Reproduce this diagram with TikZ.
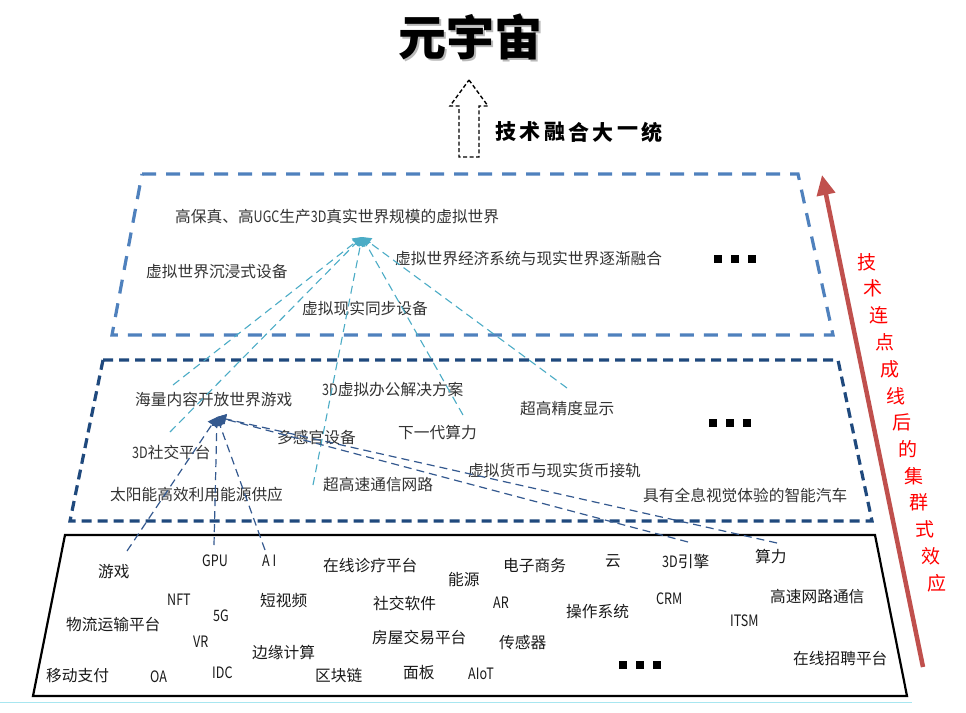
\documentclass[tikz,border=0pt]{standalone}
\usepackage{fontspec}
\usepackage{graphicx}
\setmainfont{Noto Sans CJK SC}
\usetikzlibrary{arrows.meta}
\definecolor{topblue}{HTML}{4F81BD}
\definecolor{midblue}{HTML}{1F497D}
\definecolor{lightc}{HTML}{4BACC6}
\definecolor{darkc}{HTML}{34598F}
\definecolor{redarrow}{HTML}{C0504D}
\definecolor{txtgray}{HTML}{333333}
\definecolor{txtblack}{HTML}{1A1A1A}
\definecolor{faintcyan}{HTML}{A8E6F0}
\newcommand{\nl}[1]{\scalebox{0.8}[1]{#1}}
\newcommand{\sqdots}{\rule{8.5pt}{8.5pt}\hspace{8.5pt}\rule{8.5pt}{8.5pt}\hspace{8.5pt}\rule{8.5pt}{8.5pt}}
\newcommand{\shadowed}[1]{\rlap{\kern2.5pt\raisebox{-2.5pt}{\color{gray!55}#1}}#1}
\tikzset{
  lbl/.style={anchor=west, inner sep=0pt, font=\fontsize{15.7}{16}\selectfont, text=txtgray},
  blbl/.style={lbl, text=txtblack},
  dotsnode/.style={inner sep=0pt, text=black},
  toptrap/.style={draw=topblue, line width=3.2pt, dash pattern=on 14pt off 10pt},
  midtrap/.style={draw=midblue, line width=3.2pt, dash pattern=on 10pt off 6pt},
  bottrap/.style={draw=black, line width=2.2pt, line join=miter},
  lconn/.style={draw=lightc, line width=1.1pt, dash pattern=on 8pt off 5pt, -{Triangle[length=9pt,width=10pt]}},
  dconn/.style={draw=darkc, line width=1.2pt, dash pattern=on 8pt off 5pt, -{Triangle[length=9pt,width=10pt]}},
  redtxt/.style={inner sep=0pt, text=red, font=\fontsize{19}{19}\selectfont},
  captxt/.style={inner sep=0pt, text=black, font=\fontsize{21}{21}\selectfont\bfseries},
  hollow/.style={draw=black, line width=1.4pt, dash pattern=on 4pt off 2.5pt},
  bigarrow/.style={draw=redarrow, line width=4.5pt, -{Triangle[length=20pt,width=18pt]}},
}
\begin{document}
\begin{tikzpicture}[x=1pt,y=-1pt]
\useasboundingbox (0,0) rectangle (966,712);
\fill[white] (0,0) rectangle (966,712);

% title
\node[inner sep=0pt, text=black, font=\fontsize{48}{48}\selectfont\bfseries] (title) at (470,38) {\shadowed{元宇宙}};

% hollow dashed arrow
\draw[hollow] (469,80) -- (488,106) -- (479,106) -- (479,157) -- (459,157) -- (459,106) -- (450,106) -- cycle;
\foreach \c [count=\i] in {技,术,融,合,大,一,统}
  \node[captxt] (cap\i) at ({506+(\i-1)*24.3},132) {\c};

% layers
\draw[toptrap] (142,174) -- (798,174) -- (833,335) -- (112,335) -- cycle;
\draw[midtrap] (103,360) -- (838,360) -- (872,521) -- (70,521) -- cycle;
\draw[bottrap] (65,535) -- (875,535) -- (907,696) -- (33,696) -- cycle;
\draw[faintcyan, line width=0.8pt] (0,702) -- (912,702);

% red arrow and text
\coordinate (rs) at (923,667);
\coordinate (re) at (822,175);
\draw[bigarrow] (rs) -- (re);
\foreach \c [count=\i] in {技,术,连,点,成,线,后,的,集,群,式,效,应}
  \node[redtxt] (r\i) at ({867+(\i-1)*5.83},{262+(\i-1)*26.75}) {\c};

% top layer texts
\node[lbl] (t1) at (175,217) {高保真、高\nl{UGC}生产\nl{3D}真实世界规模的虚拟世界};
\node[lbl] (t2) at (146,272) {虚拟世界沉浸式设备};
\node[lbl] (t3) at (302,308) {虚拟现实同步设备};
\node[lbl] (t4) at (395,259) {虚拟世界经济系统与现实世界逐渐融合};
\node[dotsnode] (tdots) at (735,259) {\sqdots};

% middle layer texts
\node[lbl] (m1) at (135,400) {海量内容开放世界游戏};
\node[lbl] (m2) at (322,390) {\nl{3D}虚拟办公解决方案};
\node[lbl] (m3) at (520,408) {超高精度显示};
\node[lbl] (m4) at (132,452) {\nl{3D}社交平台};
\node[lbl] (m5) at (277,438) {多感官设备};
\node[lbl] (m6) at (398,433) {下一代算力};
\node[lbl] (m7) at (468,471) {虚拟货币与现实货币接轨};
\node[lbl] (m8) at (110,495) {太阳能高效利用能源供应};
\node[lbl] (m9) at (323,485) {超高速通信网路};
\node[lbl] (m10) at (643,495) {具有全息视觉体验的智能汽车};
\node[dotsnode] (mdots) at (730,423) {\sqdots};

% bottom layer texts
\node[blbl] (b1) at (98,572) {游戏};
\node[blbl] (b2) at (202,561) {\nl{GPU}};
\node[blbl] (b3) at (262,561) {\nl{A I}};
\node[blbl] (b4) at (323,565) {在线诊疗平台};
\node[blbl] (b5) at (448,580) {能源};
\node[blbl] (b6) at (167,600) {\nl{NFT}};
\node[blbl] (b7) at (213,616) {\nl{5G}};
\node[blbl] (b8) at (260,601) {短视频};
\node[blbl] (b9) at (373,603) {社交软件};
\node[blbl] (b10) at (66,625) {物流运输平台};
\node[blbl] (b11) at (193,642) {\nl{VR}};
\node[blbl] (b12) at (252,653) {边缘计算};
\node[blbl] (b13) at (372,637) {房屋交易平台};
\node[blbl] (b14) at (46,676) {移动支付};
\node[blbl] (b15) at (150,677) {\nl{OA}};
\node[blbl] (b16) at (212,673) {\nl{IDC}};
\node[blbl] (b17) at (315,676) {区块链};
\node[blbl] (b18) at (403,673) {面板};
\node[blbl] (b19) at (468,674) {\nl{AIoT}};
\node[blbl] (b20) at (503,565) {电子商务};
\node[blbl] (b21) at (605,561) {云};
\node[blbl] (b22) at (662,562) {\nl{3D}引擎};
\node[blbl] (b23) at (755,557) {算力};
\node[blbl] (b24) at (493,603) {\nl{AR}};
\node[blbl] (b25) at (566,612) {操作系统};
\node[blbl] (b26) at (656,599) {\nl{CRM}};
\node[blbl] (b27) at (730,621) {\nl{ITSM}};
\node[blbl] (b28) at (770,597) {高速网路通信};
\node[blbl] (b29) at (499,643) {传感器};
\node[dotsnode] (bdots) at (640,665) {\sqdots};
\node[blbl] (b31) at (793,658) {在线招聘平台};

% light-blue connectors (middle -> top)
\coordinate (lapex) at (362,237);
\coordinate (le1) at (173,385);
\coordinate (le2) at (170,432);
\coordinate (le3) at (313,485);
\coordinate (le4) at (463,415);
\coordinate (le5) at (567,388);
\foreach \e in {le1,le2,le3,le4,le5}
  \draw[lconn] (\e) -- (lapex);

% dark-blue connectors (bottom -> middle)
\coordinate (dapex) at (217,417);
\coordinate (de1) at (127,551);
\coordinate (de2) at (214,545);
\coordinate (de3) at (265,550);
\coordinate (de4) at (688,542);
\coordinate (de5) at (777,543);
\foreach \e in {de1,de2,de3,de4,de5}
  \draw[dconn] (\e) -- (dapex);
\end{tikzpicture}
\end{document}
